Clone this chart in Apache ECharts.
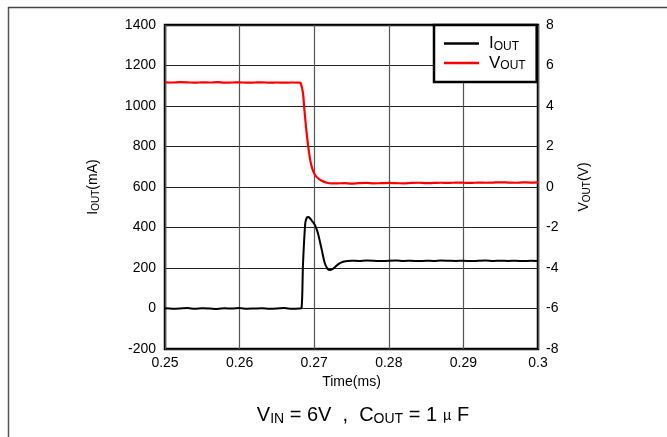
<!DOCTYPE html>
<html>
<head>
<meta charset="utf-8">
<script src="https://cdn.jsdelivr.net/npm/echarts@6/dist/echarts.min.js"></script>
<style>
html, body { margin: 0; padding: 0; background: #fff; }
#chart { width: 667px; height: 437px; }
</style>
</head>
<body>
<div id="chart"></div>
<script>
// Load transient: output current (mA, left axis) and output voltage (V, right axis)
const xTicks = [0.25, 0.26, 0.27, 0.28, 0.29, 0.3];

const currentTime = [
  0.250, 0.251, 0.252, 0.253, 0.254, 0.255, 0.256, 0.257, 0.258, 0.259,
  0.260, 0.261, 0.262, 0.263, 0.264, 0.265, 0.266, 0.267, 0.268,
  0.2683, 0.2685, 0.2688, 0.2690, 0.2692, 0.2694, 0.2697, 0.2701, 0.2705,
  0.2710, 0.2714, 0.2718, 0.2721, 0.2725, 0.2728, 0.2732, 0.2736, 0.2740, 0.2745,
  0.275, 0.276, 0.277, 0.278, 0.279, 0.280, 0.281, 0.282, 0.283, 0.284,
  0.285, 0.286, 0.287, 0.288, 0.289, 0.290, 0.291, 0.292, 0.293, 0.294,
  0.295, 0.296, 0.297, 0.298, 0.299, 0.300
];
const currentMa = [
  1, -1, 0, 2, -1, 1, 0, -2, 1, 0,
  2, -1, 0, 1, -1, 0, 2, -1, 0,
  2, 220, 420, 448, 452, 447, 433, 412, 372,
  292, 226, 196, 190, 196, 205, 218, 227, 232, 235,
  236, 235, 237, 236, 234, 236, 237, 235, 236, 234,
  236, 235, 237, 236, 235, 236, 234, 236, 237, 235,
  236, 235, 236, 234, 236, 235
];

const voltageTime = [
  0.250, 0.251, 0.252, 0.253, 0.254, 0.255, 0.256, 0.257, 0.258, 0.259,
  0.260, 0.261, 0.262, 0.263, 0.264, 0.265, 0.266, 0.267, 0.268,
  0.2682, 0.2685, 0.26865, 0.2689, 0.2692, 0.26955, 0.2699, 0.2703, 0.2710, 0.2717, 0.2723,
  0.273, 0.274, 0.275, 0.276, 0.277, 0.278, 0.279, 0.280, 0.281, 0.282,
  0.283, 0.284, 0.285, 0.286, 0.287, 0.288, 0.289, 0.290, 0.291, 0.292,
  0.293, 0.294, 0.295, 0.296, 0.297, 0.298, 0.299, 0.300
];
const voltageV = [
  5.17, 5.16, 5.18, 5.17, 5.15, 5.17, 5.16, 5.18, 5.15, 5.16,
  5.17, 5.15, 5.16, 5.17, 5.15, 5.16, 5.15, 5.16, 5.15,
  5.13, 4.63, 3.97, 2.98, 1.99, 1.17, 0.75, 0.50, 0.31, 0.21, 0.18,
  0.18, 0.19, 0.17, 0.19, 0.20, 0.18, 0.19, 0.20, 0.19, 0.18,
  0.20, 0.21, 0.19, 0.20, 0.21, 0.20, 0.22, 0.21, 0.20, 0.22,
  0.21, 0.22, 0.23, 0.22, 0.21, 0.23, 0.22, 0.23
];

const FONT = '"Liberation Sans", Arial, sans-serif';

function pairs(xs, ys) { return xs.map((x, i) => [x, ys[i]]); }

const subRich = (main, sub, lh, slh) => ({
  m: { fontFamily: FONT, fontSize: main, color: '#000', lineHeight: lh },
  s: { fontFamily: FONT, fontSize: sub, color: '#000', lineHeight: slh, verticalAlign: 'bottom' }
});

const chart = echarts.init(document.getElementById('chart'), null, { renderer: 'canvas' });

chart.setOption({
  animation: false,
  backgroundColor: '#fff',
  grid: {
    left: 165, right: 129, top: 25, bottom: 88,
    show: true, borderColor: '#000', borderWidth: 2.5, backgroundColor: 'transparent'
  },
  legend: {
    orient: 'vertical',
    left: 434, top: 25,
    borderColor: '#000', borderWidth: 2.5, backgroundColor: '#fff',
    padding: [10, 11, 10, 10],
    icon: 'rect',
    itemWidth: 35, itemHeight: 2.5, itemGap: 2,
    data: ['IOUT', 'VOUT'],
    formatter: name => name === 'IOUT' ? '{p|}{m|I}{s|OUT}' : '{p|}{m|V}{s|OUT}',
    textStyle: {
      rich: Object.assign({ p: { width: 5 } }, subRich(17, 12, 18, 12))
    }
  },
  xAxis: {
    type: 'value',
    min: 0.25, max: 0.3, interval: 0.01,
    name: 'Time(ms)', nameLocation: 'middle', nameGap: 23,
    nameTextStyle: { fontFamily: FONT, fontSize: 14, color: '#000' },
    axisLine: { show: false },
    axisTick: { show: false },
    axisLabel: {
      fontFamily: FONT, fontSize: 14, color: '#000', margin: 7,
      formatter: v => String(+v.toFixed(2))
    },
    splitLine: { show: true, lineStyle: { color: '#555', width: 1.2 } }
  },
  yAxis: [
    {
      type: 'value',
      min: -200, max: 1400, interval: 200,
      name: '{m|I}{s|OUT}{m|(mA)}', nameLocation: 'middle', nameGap: 64,
      nameTextStyle: { rich: subRich(14, 10, 16, 10) },
      axisLine: { show: false },
      axisTick: { show: false },
      axisLabel: { fontFamily: FONT, fontSize: 14, color: '#000', margin: 9, formatter: v => String(v) },
      splitLine: { show: true, lineStyle: { color: '#222', width: 1 } }
    },
    {
      type: 'value',
      min: -8, max: 8, interval: 2,
      position: 'right',
      name: '{m|V}{s|OUT}{m|(V)}', nameLocation: 'middle', nameGap: 38,
      nameTextStyle: { rich: subRich(14, 10, 16, 10) },
      axisLine: { show: false },
      axisTick: { show: false },
      axisLabel: { fontFamily: FONT, fontSize: 14, color: '#000', margin: 8, formatter: v => String(v) },
      splitLine: { show: false }
    }
  ],
  series: [
    {
      name: 'IOUT', type: 'line', yAxisIndex: 0,
      data: pairs(currentTime, currentMa),
      symbol: 'none', smooth: 0.3,
      lineStyle: { color: '#000', width: 2 },
      itemStyle: { color: '#000' },
      z: 3
    },
    {
      name: 'VOUT', type: 'line', yAxisIndex: 1,
      data: pairs(voltageTime, voltageV),
      symbol: 'none', smooth: 0.3,
      lineStyle: { color: '#ff0000', width: 2.2 },
      itemStyle: { color: '#ff0000' },
      z: 4
    }
  ],
  graphic: [
    { type: 'line', shape: { x1: 8.5, y1: 7, x2: 8.5, y2: 437 }, style: { stroke: '#555', lineWidth: 1.5 } },
    { type: 'line', shape: { x1: 8, y1: 7.5, x2: 667, y2: 7.5 }, style: { stroke: '#444', lineWidth: 1.5 } },
    {
      type: 'text', x: 363, y: 415,
      style: {
        text: '{m|V}{s|IN}{m| = 6V  ,  C}{s|OUT}{m| = 1 }{u|μ}{m| F}',
        align: 'center', verticalAlign: 'middle',
        rich: Object.assign({
          u: { fontFamily: '"Noto Sans CJK JP", sans-serif', fontSize: 14, color: '#000', lineHeight: 22 }
        }, subRich(20, 14, 22, 11))
      }
    }
  ]
});
</script>
</body>
</html>
